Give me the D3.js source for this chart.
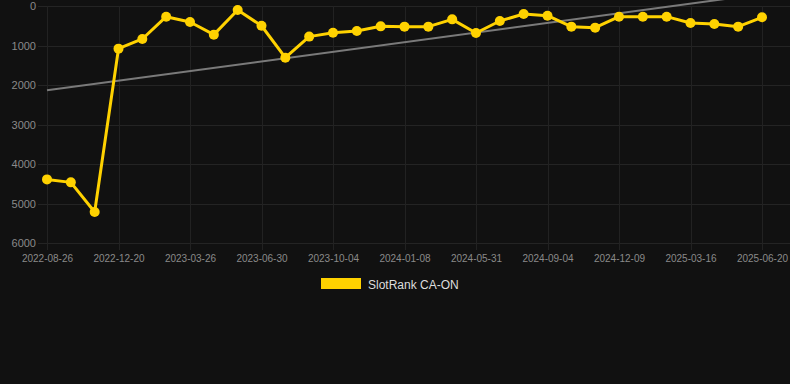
<!DOCTYPE html>
<html>
<head>
<meta charset="utf-8">
<script src="https://cdn.jsdelivr.net/npm/d3@7"></script>
<style>
html,body{margin:0;padding:0;background:#111111;}
svg{display:block;}
text{font-family:"Liberation Sans",Arial,Helvetica,sans-serif;}
</style>
</head>
<body>
<div id="chart"></div>
<script>
// ---- data ----
const tickLabels = ["2022-08-26","2022-12-20","2023-03-26","2023-06-30","2023-10-04","2024-01-08","2024-05-31","2024-09-04","2024-12-09","2025-03-16","2025-06-20"];
const rankValues = [4390,4465,5215,1080,835,270,405,725,100,500,1308,775,675,633,515,523,523,338,684,380,203,245,523,548,270,270,270,430,455,523,287];
const yTicks = [0,1000,2000,3000,4000,5000,6000];
const seriesName = "SlotRank CA-ON";
const tickEvery = 3;

(function(){
const W = 790, H = 384;
const pLeft = 47, pRight = 762, pTop = 6, pBottom = 243;
const yellow = "#ffd200";

const svg = d3.select("#chart").append("svg").attr("width", W).attr("height", H);
svg.append("rect").attr("width", W).attr("height", H).attr("fill", "#111111");

const idx = rankValues.map((d,i)=>i);
const x = d3.scalePoint().domain(idx).range([pLeft, pRight]);
const y = d3.scaleLinear().domain([0, 6000]).range([pTop, pBottom]);

// horizontal grid + y labels
svg.append("g").selectAll("line").data(yTicks).join("line")
  .attr("x1", 38).attr("x2", W).attr("y1", d=>Math.round(y(d))+0.5).attr("y2", d=>Math.round(y(d))+0.5)
  .attr("stroke", "#242424").attr("stroke-width", 1);
const yAxis = d3.axisLeft(y).tickValues(yTicks).tickSize(0).tickPadding(0).tickFormat(d3.format("d"));
const gy = svg.append("g").attr("transform", `translate(37,0)`).call(yAxis);
gy.select(".domain").remove();
gy.selectAll("text").attr("fill", "#8a8a8a").attr("font-size", 11).attr("x", -1).attr("dy", "0.35em");

// vertical grid + x labels
const tickIdx = idx.filter(i => i % tickEvery === 0);
svg.append("g").selectAll("line").data(tickIdx).join("line")
  .attr("x1", d=>Math.round(x(d))+0.5).attr("x2", d=>Math.round(x(d))+0.5)
  .attr("y1", pTop).attr("y2", 250)
  .attr("stroke", "#222222").attr("stroke-width", 1);
const xAxis = d3.axisBottom(x).tickValues(tickIdx).tickSize(0).tickPadding(0)
  .tickFormat(d => tickLabels[d / tickEvery]);
const gx = svg.append("g").attr("transform", `translate(0,255)`).call(xAxis);
gx.select(".domain").remove();
gx.selectAll("text").attr("fill", "#8a8a8a").attr("font-size", 10).attr("dy", "0.71em");

// trend line (least squares)
const n = rankValues.length;
const mx = d3.mean(idx), my = d3.mean(rankValues);
const slope = d3.sum(idx, i => (i-mx)*(rankValues[i]-my)) / d3.sum(idx, i => (i-mx)*(i-mx));
const icpt = my - slope*mx;
svg.append("line")
  .attr("x1", x(0)).attr("y1", y(icpt))
  .attr("x2", x(n-1)).attr("y2", y(icpt + slope*(n-1)))
  .attr("stroke", "#7a7a7a").attr("stroke-width", 2);

// series line
svg.append("path").datum(rankValues)
  .attr("d", d3.line().x((d,i)=>x(i)).y(d=>y(d)))
  .attr("fill", "none").attr("stroke", yellow).attr("stroke-width", 3).attr("stroke-linejoin", "round");
svg.append("g").selectAll("circle").data(rankValues).join("circle")
  .attr("cx", (d,i)=>x(i)).attr("cy", d=>y(d)).attr("r", 5)
  .attr("fill", yellow);

// legend
svg.append("rect").attr("x", 321).attr("y", 278).attr("width", 40).attr("height", 11)
  .attr("fill", yellow);
svg.append("text").attr("x", 368).attr("y", 289).attr("font-size", 12).attr("fill", "#dddddd").text(seriesName);
})();
</script>
</body>
</html>
